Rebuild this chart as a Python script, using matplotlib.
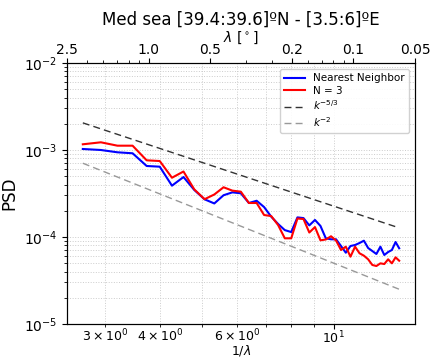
import matplotlib
matplotlib.use("Agg")
import matplotlib.pyplot as plt
import numpy as np

# wavenumber 1/lambda
k = [2.664, 2.930, 3.197, 3.463, 3.730, 3.996, 4.262, 4.529, 4.795, 5.062,
     5.328, 5.594, 5.861, 6.127, 6.394, 6.660, 6.926, 7.193, 7.459, 7.726,
     7.992, 8.258, 8.525, 8.791, 9.058, 9.324, 9.590, 9.857, 10.123, 10.390,
     10.656, 10.922, 11.189, 11.455, 11.722, 11.988, 12.254, 12.521, 12.787, 13.054,
     13.320, 13.586, 13.853, 14.119]

psd_nn = [1.027e-3, 1.00e-3, 9.41e-4, 9.17e-4, 6.55e-4, 6.43e-4, 3.89e-4, 4.89e-4, 3.47e-4, 2.71e-4,
          2.43e-4, 3.02e-4, 3.26e-4, 3.18e-4, 2.46e-4, 2.61e-4, 2.21e-4, 1.71e-4, 1.41e-4, 1.20e-4,
          1.14e-4, 1.68e-4, 1.65e-4, 1.36e-4, 1.57e-4, 1.34e-4, 9.66e-5, 9.41e-5, 9.41e-5, 7.88e-5,
          6.60e-5, 7.88e-5, 8.09e-5, 8.53e-5, 9.07e-5, 7.47e-5, 6.90e-5, 6.38e-5, 7.74e-5, 6.21e-5,
          6.72e-5, 7.09e-5, 8.76e-5, 7.42e-5]

psd_n3 = [1.163e-3, 1.226e-3, 1.121e-3, 1.121e-3, 7.61e-4, 7.47e-4, 4.80e-4, 5.66e-4, 3.52e-4, 2.72e-4,
          3.08e-4, 3.73e-4, 3.41e-4, 3.32e-4, 2.46e-4, 2.46e-4, 1.79e-4, 1.74e-4, 1.37e-4, 9.66e-5,
          9.66e-5, 1.63e-4, 1.61e-4, 1.126e-4, 1.30e-4, 9.16e-5, 9.36e-5, 1.02e-4, 9.11e-5, 7.09e-5,
          7.74e-5, 5.94e-5, 7.74e-5, 6.50e-5, 6.10e-5, 5.54e-5, 4.77e-5, 4.64e-5, 4.98e-5, 4.89e-5,
          5.54e-5, 4.98e-5, 5.84e-5, 5.34e-5]

amp_53 = 1.05e-2
amp_2 = 5.0e-3

top_ticks = [0.4, 1, 2, 5, 10, 20]
top_labels = ['2.5', '1.0', '0.5', '0.2', '0.1', '0.05']

kk = np.array(k)
ref53 = amp_53 * kk ** (-5.0 / 3.0)
ref2 = amp_2 * kk ** (-2.0)

fig = plt.figure(figsize=(4.36, 3.58), dpi=100)
ax = fig.add_axes([67/436, 34/358, 348/436, 261/358])

ax.plot(k, psd_nn, color='blue', lw=1.5, label='Nearest Neighbor')
ax.plot(k, psd_n3, color='red', lw=1.5, label='N = 3')
ax.plot(k, ref53, color='0.2', ls='--', lw=1.0, dashes=(5, 3), label='$k^{-5/3}$')
ax.plot(k, ref2, color='0.6', ls='--', lw=1.0, dashes=(5, 3), label='$k^{-2}$')

ax.set_xscale('log')
ax.set_yscale('log')
ax.set_ylim(1e-5, 1e-2)
ax.grid(True, which='both', color='0.8', ls=':', lw=0.7)
ax.tick_params(axis='y', labelsize=10)
ax.tick_params(axis='x', which='both', labelsize=9, pad=0.5)
ax.set_xlabel('1/$\\lambda$', fontsize=9)
ax.xaxis.set_label_coords(0.5, -0.073)
ax.set_ylabel('PSD', fontsize=12)
ax.legend(loc='upper right', fontsize=7.5, framealpha=0.9, labelspacing=0.25,
          borderaxespad=0.6, handletextpad=0.8)

ax2 = ax.twiny()
ax2.set_xscale('log')
ax2.set_xlim(0.4, 20)
ax2.set_xticks(top_ticks)
ax2.set_xticklabels(top_labels)
ax2.tick_params(labelsize=10, pad=1)
ax2.set_xlabel('$\\lambda$ [$^\\circ$]', fontsize=10, labelpad=1)
ax2.set_title('Med sea [39.4:39.6]ºN - [3.5:6]ºE', fontsize=12, pad=3)

fig.savefig('out.png', dpi=100)
